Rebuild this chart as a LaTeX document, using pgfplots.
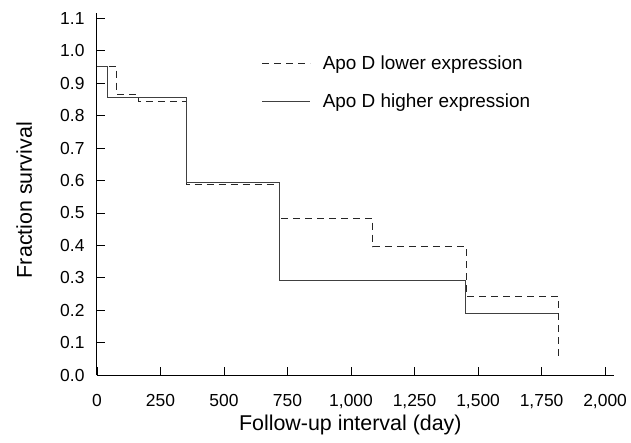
\documentclass[border=0pt]{standalone}
\usepackage{pgfplots}
\pgfplotsset{compat=1.18}
\usepackage{fontspec}
\setmainfont{Liberation Sans}
\begin{document}
\begin{tikzpicture}
\begin{axis}[
  scale only axis,
  width=517bp, height=362bp,
  xmin=0, xmax=2035, ymin=0, ymax=1.117,
  axis x line=bottom, axis y line=left,
  axis line style={-, line width=1bp, black},
  tick align=inside,
  major tick length=8bp,
  tick style={line width=0.9bp, black},
  xtick={0,250,500,750,1000,1250,1500,1750,2000},
  ytick={0,0.1,0.2,0.3,0.4,0.5,0.6,0.7,0.8,0.9,1.0,1.1},
  /pgf/number format/assume math mode=true,
  xticklabel style={font=\fontsize{17.5}{20}\selectfont, /pgf/number format/1000 sep={,}, yshift=-16bp},
  yticklabel style={font=\fontsize{17.5}{20}\selectfont, /pgf/number format/fixed, /pgf/number format/fixed zerofill, /pgf/number format/precision=1, xshift=-9bp},
  xlabel={Follow-up interval (day)},
  ylabel={Fraction survival},
  every axis x label/.style={at={(axis description cs:0.49,-0.138)}, anchor=center, font=\fontsize{21.5}{25}\selectfont},
  every axis y label/.style={at={(axis description cs:-0.141,0.483)}, anchor=center, rotate=90, font=\fontsize{21.5}{25}\selectfont},
  legend style={draw=none, fill=none, at={(axis description cs:0.3186,0.881)}, anchor=north west, font=\fontsize{19}{22}\selectfont, row sep=22bp, inner sep=0pt, nodes={inner sep=0pt}},
  legend cell align=left,
  legend image code/.code={\draw[#1] (0bp,0bp) -- (48bp,0bp); \path (60bp,0bp);},
]
\addplot[black!85, line width=0.9bp, dash pattern=on 7bp off 5bp] coordinates {
  (0,0.952) (78,0.952) (78,0.866) (163,0.866) (163,0.844) (351,0.844) (351,0.587) (718,0.587) (718,0.484) (1086,0.484) (1086,0.396) (1453,0.396) (1453,0.243) (1816,0.243) (1816,0.05)
};
\addlegendentry{Apo D lower expression}
\addplot[black!75, line width=0.9bp] coordinates {
  (0,0.952) (40,0.952) (40,0.856) (351,0.856) (351,0.595) (718,0.595) (718,0.293) (1449,0.293) (1449,0.191) (1816,0.191)
};
\addlegendentry{Apo D higher expression}
\coordinate (O) at (rel axis cs:0,0);
\end{axis}
\pgfresetboundingbox
\path[use as bounding box] (O) ++(-97bp,-68bp) rectangle ++(631bp,443bp);
\end{tikzpicture}
\end{document}
